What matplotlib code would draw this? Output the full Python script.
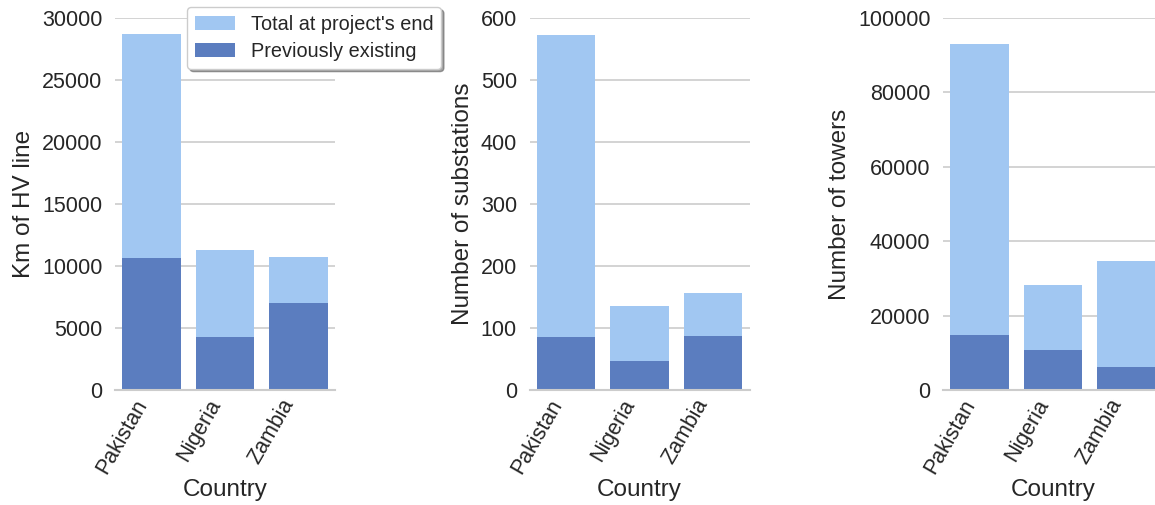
import matplotlib.pyplot as plt
import numpy as np

plt.rcParams['font.family'] = ['Liberation Sans', 'DejaVu Sans']

countries = ['Pakistan', 'Nigeria', 'Zambia']

# km of HV line
km_total = [28700, 11300, 10750]
km_prev = [10650, 4250, 7000]

# substations
sub_total = [573, 136, 157]
sub_prev = [85, 46, 87]

# towers
tow_total = [93000, 28200, 34800]
tow_prev = [14900, 10700, 6200]

ylabels = ['Km of HV line', 'Number of substations', 'Number of towers']
ylims = [30000, 600, 100000]
yticks = [np.arange(0, 30001, 5000), np.arange(0, 601, 100), np.arange(0, 100001, 20000)]

light = '#a1c7f2'
dark = '#5b7dbf'

fig = plt.figure(figsize=(11.55, 5.05), dpi=100)
lefts = [115, 529.5, 943]
W, H = 1155, 505
axes = [fig.add_axes([l / W, 1 - 390 / H, 220 / W, 372 / H]) for l in lefts]

data = [(km_total, km_prev), (sub_total, sub_prev), (tow_total, tow_prev)]
x = np.arange(len(countries))
for i, ax in enumerate(axes):
    total, prev = data[i]
    ax.set_axisbelow(True)
    ax.yaxis.grid(True, color='#cccccc', linewidth=1.2)
    ax.bar(x, total, width=0.8, color=light, label="Total at project's end")
    ax.bar(x, prev, width=0.8, color=dark, label='Previously existing')
    ax.set_xlim(-0.5, 2.5)
    ax.set_ylim(0, ylims[i])
    ax.set_yticks(yticks[i])
    ax.set_xticks(x)
    ax.set_xticklabels(countries, rotation=60, ha='right')
    ax.tick_params(axis='both', length=0, labelsize=15.5, colors='#262626')
    ax.tick_params(axis='y', pad=9)
    ax.tick_params(axis='x', pad=4)
    for s in ['top', 'right', 'left']:
        ax.spines[s].set_visible(False)
    ax.spines['bottom'].set_color('#cccccc')
    ax.spines['bottom'].set_linewidth(1.5)
    ax.set_ylabel(ylabels[i], fontsize=17.5, color='#262626', labelpad=5)
    ax.set_xlabel('Country', fontsize=17.5, color='#262626', labelpad=1)

leg = axes[0].legend(loc='upper left', bbox_to_anchor=(187 / W, 1 - 7 / H),
                     bbox_transform=fig.transFigure, fontsize=14.3, shadow=True,
                     frameon=True, fancybox=True, borderaxespad=0,
                     labelspacing=0.4)
leg.get_frame().set_edgecolor('#cccccc')
for t in leg.get_texts():
    t.set_color('#262626')

fig.savefig('out.png', dpi=100)
